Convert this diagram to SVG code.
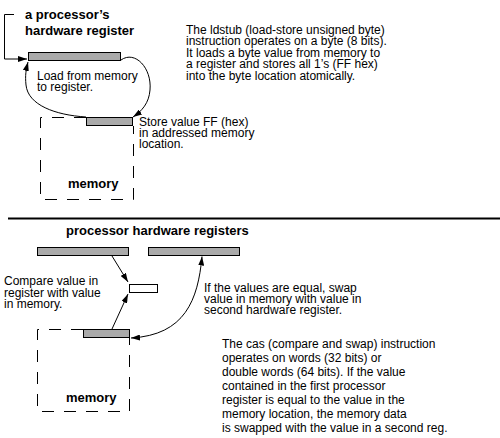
<svg xmlns="http://www.w3.org/2000/svg" width="500" height="438" viewBox="0 0 500 438">
<style>
text{font-family:"Liberation Sans",Arial,sans-serif;fill:#000}
.t{font-size:12px}
.b{font-size:13px;font-weight:bold}
.reg{fill:#aaaaaa;stroke:#000;stroke-width:1}
.box{fill:none;stroke:#000;stroke-width:1;stroke-dasharray:12 10}
.c{fill:none;stroke:#000;stroke-width:1}
</style>
<defs>
<marker id="ah" viewBox="0 0 9 6" refX="9" refY="3" markerWidth="9" markerHeight="6" markerUnits="userSpaceOnUse" orient="auto-start-reverse">
<path d="M0,0 L9,3 L0,6 z" fill="#000"/>
</marker>
</defs>
<rect width="500" height="438" fill="#fff"/>

<g id="top-register">
<text class="b" x="25" y="18.5">a processor’s</text>
<text class="b" x="25" y="35">hardware register</text>
<rect class="reg" x="28.5" y="52.5" width="92" height="8"/>
</g>

<g id="top-memory">
<path class="box" d="M86,117.5 H40.5 V199.5 H133.5 V126"/>
<rect class="reg" x="86.5" y="117.5" width="46" height="8"/>
<text class="b" x="68" y="188">memory</text>
</g>

<g id="top-labels">
<text class="t" x="37" y="80">Load from memory</text>
<text class="t" x="37" y="91">to register.</text>
<text class="t" x="139" y="126">Store value FF (hex)</text>
<text class="t" x="139" y="137">in addressed memory</text>
<text class="t" x="139" y="148">location.</text>
<text class="t" x="186" y="33.5">The ldstub (load-store unsigned byte)</text>
<text class="t" x="186" y="45">instruction operates on a byte (8 bits).</text>
<text class="t" x="186" y="56.5">It loads a byte value from memory to</text>
<text class="t" x="186" y="68">a register and stores all 1’s (FF hex)</text>
<text class="t" x="186" y="79.5">into the byte location atomically.</text>
</g>

<line x1="8" y1="218.5" x2="500" y2="218.5" stroke="#000" stroke-width="2"/>

<g id="bottom-registers">
<text class="b" x="66" y="235">processor hardware registers</text>
<rect class="reg" x="37.5" y="247.5" width="91" height="8"/>
<rect class="reg" x="148.5" y="247.5" width="91" height="8"/>
</g>

<g id="compare-cell">
<rect x="129.5" y="284.5" width="28" height="8" fill="#fff" stroke="#000"/>
</g>

<g id="bottom-memory">
<path class="box" d="M83,329.5 H37.5 V411.5 H129.5 V338"/>
<rect class="reg" x="83.5" y="329.5" width="46" height="8"/>
<text class="b" x="66" y="402">memory</text>
</g>

<g id="bottom-labels">
<text class="t" x="4" y="285">Compare value in</text>
<text class="t" x="4" y="297">register with value</text>
<text class="t" x="4" y="308">in memory.</text>
<text class="t" x="204" y="292">If the values are equal, swap</text>
<text class="t" x="204" y="303">value in memory with value in</text>
<text class="t" x="204" y="314">second hardware register.</text>
<text class="t" x="222" y="348">The cas (compare and swap) instruction</text>
<text class="t" x="222" y="362">operates on words (32 bits) or</text>
<text class="t" x="222" y="376">double words (64 bits). If the value</text>
<text class="t" x="222" y="390">contained in the first processor</text>
<text class="t" x="222" y="404">register is equal to the value in the</text>
<text class="t" x="222" y="418">memory location, the memory data</text>
<text class="t" x="222" y="432">is swapped with the value in a second reg.</text>
</g>

<g id="connectors">
<path class="c" d="M14,14.5 H4.5 V59 H27" marker-end="url(#ah)"/>
<path class="c" d="M121,60 C135,50 152,68 150,90 C149,103 142,111 133,117" marker-end="url(#ah)"/>
<path class="c" d="M86,117 C55,115 28,105 26,85 C25,75 26,70 28,62" marker-end="url(#ah)"/>
<path class="c" d="M112,256 L128,282" marker-end="url(#ah)"/>
<path class="c" d="M112,329 L128,294" marker-end="url(#ah)"/>
<path class="c" d="M202,256.5 C198,300 185,335 131,338" marker-start="url(#ah)" marker-end="url(#ah)"/>
</g>
</svg>
